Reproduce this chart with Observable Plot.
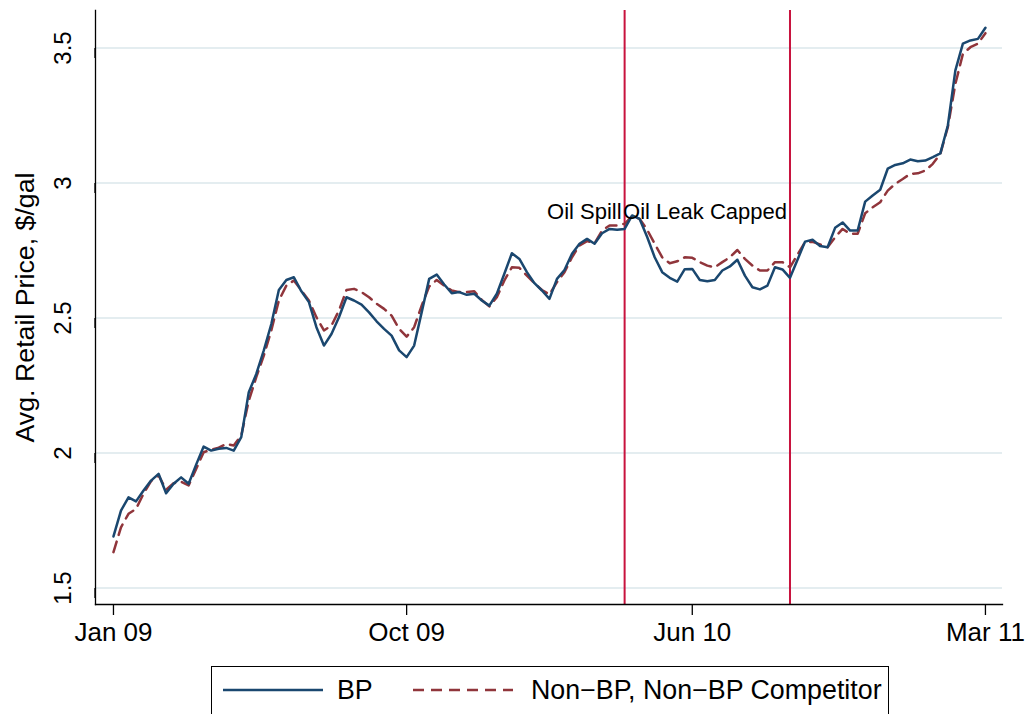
<!DOCTYPE html>
<html>
<head>
<meta charset="utf-8">
<script src="https://cdn.jsdelivr.net/npm/d3@7"></script>
<script src="https://cdn.jsdelivr.net/npm/@observablehq/plot@0.6"></script>
<style>
  html, body { margin: 0; padding: 0; background: #fff; }
  #wrap { position: relative; width: 1029px; height: 714px; overflow: hidden; font-family: "Liberation Sans", Arial, Helvetica, sans-serif; }
  #legend { position: absolute; left: 211px; top: 666px; width: 678px; height: 60px; box-sizing: border-box; border: 1.3px solid #000; background: #fff; }
</style>
</head>
<body>
<div id="wrap"><div id="chart"></div><div id="legend"></div></div>
<script>
// ---- data (weekly observations, week 0 = first week of Jan 2009) ----
const bpPrice = [
  1.691, 1.787, 1.836, 1.821, 1.861, 1.898, 1.923, 1.851, 1.886, 1.910,
  1.886, 1.957, 2.024, 2.009, 2.016, 2.019, 2.009, 2.059, 2.225, 2.293,
  2.380, 2.478, 2.604, 2.641, 2.651, 2.599, 2.559, 2.466, 2.398, 2.441,
  2.503, 2.577, 2.565, 2.550, 2.521, 2.488, 2.460, 2.435, 2.380, 2.355,
  2.398, 2.521, 2.645, 2.661, 2.624, 2.592, 2.596, 2.586, 2.590, 2.565,
  2.546, 2.590, 2.664, 2.740, 2.719, 2.670, 2.629, 2.602, 2.571, 2.645,
  2.678, 2.738, 2.775, 2.793, 2.775, 2.814, 2.830, 2.827, 2.830, 2.880,
  2.867, 2.800, 2.725, 2.670, 2.649, 2.635, 2.681, 2.682, 2.641, 2.636,
  2.641, 2.676, 2.691, 2.716, 2.657, 2.614, 2.606, 2.620, 2.688, 2.680,
  2.649, 2.716, 2.783, 2.790, 2.767, 2.762, 2.834, 2.854, 2.824, 2.824,
  2.931, 2.954, 2.975, 3.053, 3.067, 3.073, 3.087, 3.081, 3.083, 3.096,
  3.110, 3.213, 3.417, 3.516, 3.528, 3.534, 3.575
];
const nonBpPrice = [
  1.633, 1.725, 1.775, 1.793, 1.849, 1.896, 1.917, 1.864, 1.888, 1.894,
  1.880, 1.941, 2.003, 2.012, 2.020, 2.034, 2.028, 2.065, 2.194, 2.281,
  2.361, 2.454, 2.565, 2.620, 2.639, 2.602, 2.565, 2.503, 2.454, 2.472,
  2.528, 2.604, 2.608, 2.596, 2.577, 2.553, 2.534, 2.509, 2.460, 2.431,
  2.466, 2.546, 2.617, 2.641, 2.620, 2.602, 2.596, 2.596, 2.599, 2.567,
  2.543, 2.577, 2.639, 2.688, 2.686, 2.657, 2.629, 2.604, 2.587, 2.633,
  2.670, 2.725, 2.769, 2.785, 2.777, 2.824, 2.843, 2.843, 2.849, 2.878,
  2.867, 2.827, 2.775, 2.725, 2.703, 2.710, 2.725, 2.723, 2.707, 2.694,
  2.688, 2.707, 2.725, 2.752, 2.719, 2.694, 2.676, 2.676, 2.707, 2.707,
  2.688, 2.735, 2.781, 2.782, 2.773, 2.762, 2.799, 2.830, 2.812, 2.812,
  2.888, 2.910, 2.929, 2.972, 2.997, 3.015, 3.034, 3.036, 3.046, 3.071,
  3.108, 3.207, 3.367, 3.478, 3.503, 3.516, 3.555
];
const xTickWeeks = [0, 39, 77, 116];
const xTickLabels = ["Jan 09", "Oct 09", "Jun 10", "Mar 11"];
const yTicks = [1.5, 2, 2.5, 3, 3.5];
const eventWeeks = [68, 90];
const eventLabels = ["Oil Spill", "Oil Leak Capped"];
const seriesNames = ["BP", "Non\u2212BP, Non\u2212BP Competitor"];
const yTitle = "Avg. Retail Price, $/gal";

// ---- build tables ----
const rows = bpPrice.map((v, i) => ({week: i, bp: v, non: nonBpPrice[i]}));
const events = eventWeeks.map((w, i) => ({week: w, label: eventLabels[i]}));

const navy = "#1a476f", maroon = "#90353b", crimson = "#c8133e";
const FONT = "'Liberation Sans', Arial, Helvetica, sans-serif";

const chart = Plot.plot({
  width: 1029, height: 655,
  marginLeft: 95, marginRight: 27, marginTop: 10, marginBottom: 51,
  style: {fontFamily: FONT, color: "#000", background: "transparent", overflow: "visible"},
  x: {domain: [-2.39, 118.27]},
  y: {domain: [1.439, 3.639]},
  marks: [
    Plot.gridY(yTicks, {stroke: "#e4edf0", strokeOpacity: 1, strokeWidth: 2}),
    Plot.axisY(yTicks, {tickSize: 10, tickPadding: 22, rotate: -90, textAnchor: "middle", lineAnchor: "middle",
      fontSize: 24, label: null, tickFormat: d => String(d), strokeWidth: 1.3}),
    Plot.axisX(xTickWeeks, {tickSize: 11, tickPadding: 7, fontSize: 26, label: null,
      tickFormat: d => xTickLabels[xTickWeeks.indexOf(d)], strokeWidth: 1.3}),
    Plot.ruleX(eventWeeks, {stroke: crimson, strokeWidth: 2}),
    Plot.lineY(rows, {x: "week", y: "non", stroke: maroon, strokeWidth: 2.5, strokeDasharray: "11,7"}),
    Plot.lineY(rows, {x: "week", y: "bp", stroke: navy, strokeWidth: 2.5}),
    Plot.frame({anchor: "left", stroke: "#000", strokeWidth: 1.3}),
    Plot.frame({anchor: "bottom", stroke: "#000", strokeWidth: 1.3}),
    Plot.text(events, {x: "week", text: "label", frameAnchor: "top", lineAnchor: "middle",
      dy: 201, dx: -3, textAnchor: "end", fontSize: 22, fill: "#000"}),
    Plot.text([yTitle], {frameAnchor: "left", rotate: -90, textAnchor: "middle", lineAnchor: "middle",
      dx: -70, fontSize: 26, fill: "#000"})
  ]
});
document.getElementById("chart").appendChild(chart);
d3.select(chart).selectAll("text")
  .filter(function() { return this.textContent === yTitle; })
  .attr("textLength", 270).attr("lengthAdjust", "spacingAndGlyphs");

// ---- legend (below the plot) ----
const leg = d3.select("#legend").append("svg").attr("width", 676).attr("height", 58)
  .style("font-family", FONT);
const items = [
  {name: seriesNames[0], color: navy, dash: null, x0: 11, tx: 125},
  {name: seriesNames[1], color: maroon, dash: "11,7", x0: 201, tx: 319}
];
items.forEach(it => {
  leg.append("line").attr("x1", it.x0).attr("x2", it.x0 + 100).attr("y1", 23).attr("y2", 23)
    .attr("stroke", it.color).attr("stroke-width", 2.5).attr("stroke-dasharray", it.dash);
  leg.append("text").attr("x", it.tx).attr("y", 23).attr("dy", "0.35em")
    .attr("font-size", 26.8).attr("fill", "#000").text(it.name);
});
</script>
</body>
</html>
